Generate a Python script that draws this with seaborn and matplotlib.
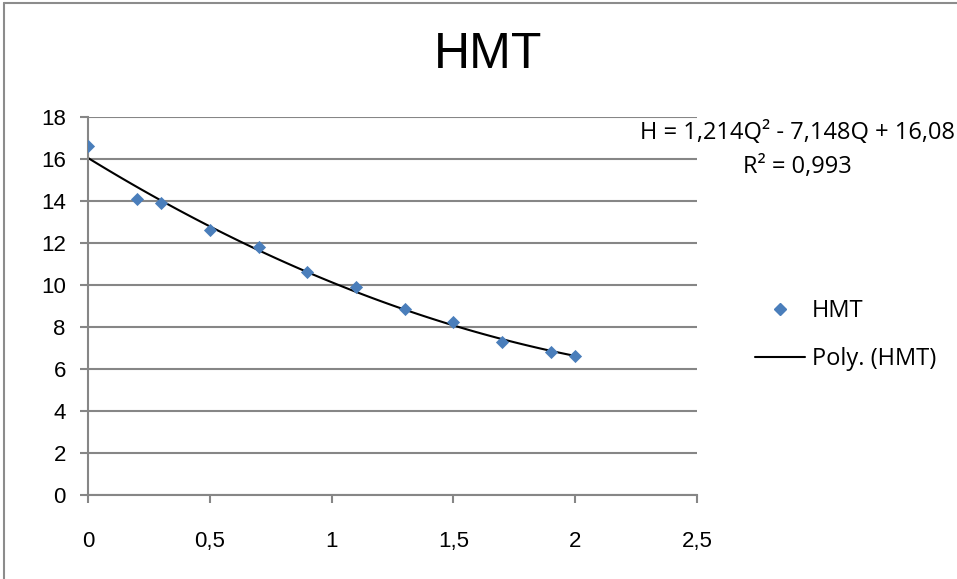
import matplotlib
matplotlib.use("Agg")
import matplotlib.pyplot as plt
import seaborn as sns
import pandas as pd
import numpy as np
from matplotlib import font_manager
from matplotlib.lines import Line2D

# Data
q_values = [0.0, 0.2, 0.3, 0.5, 0.7, 0.9, 1.1, 1.3, 1.5, 1.7, 1.9, 2.0]
hmt_values = [16.6, 14.1, 13.9, 12.6, 11.8, 10.6, 9.9, 8.85, 8.25, 7.3, 6.8, 6.6]
x_ticks = [0, 0.5, 1, 1.5, 2, 2.5]
x_tick_labels = ["0", "0,5", "1", "1,5", "2", "2,5"]
y_ticks = [0, 2, 4, 6, 8, 10, 12, 14, 16, 18]
title = "HMT"
equation = "H = 1,214Q\u00b2 - 7,148Q + 16,08"
r2_text = "R\u00b2 = 0,993"

df = pd.DataFrame({"Q": q_values, "HMT": hmt_values})

sns.set_theme(style="white")
names = {f.name for f in font_manager.fontManager.ttflist}
narrow = "Liberation Sans Narrow" if "Liberation Sans Narrow" in names else "Liberation Sans"
plt.rcParams["font.family"] = [narrow, "DejaVu Sans"]
plt.rcParams["text.color"] = "black"
plt.rcParams["xtick.labelcolor"] = "black"
plt.rcParams["ytick.labelcolor"] = "black"

fig = plt.figure(figsize=(9.57, 5.79), dpi=100)
ax = fig.add_axes([88/957, 1-495/579, (697-88)/957, (495-117)/579])

grid_c = "#868686"
sns.regplot(data=df, x="Q", y="HMT", order=2, ci=None, scatter=False, truncate=True,
            line_kws={"color": "black", "lw": 1.5}, ax=ax)
sns.scatterplot(data=df, x="Q", y="HMT", marker="D", s=45, color="#4a7ebb",
                edgecolor="#4a7ebb", linewidth=0, ax=ax, zorder=5)

ax.set_xlim(0, 2.5)
ax.set_ylim(0, 18)
ax.set_xticks(x_ticks)
ax.set_xticklabels(x_tick_labels)
ax.set_yticks(y_ticks)
ax.set_xlabel("")
ax.set_ylabel("")
ax.yaxis.grid(True, color=grid_c, lw=1.5)
ax.set_axisbelow(True)
for s in ["top", "right"]:
    ax.spines[s].set_visible(False)
for s in ["left", "bottom"]:
    ax.spines[s].set_color(grid_c)
    ax.spines[s].set_linewidth(1.5)
ax.tick_params(axis="x", direction="out", length=6, width=1.5, color=grid_c,
               labelsize=16, pad=20, bottom=True, labelcolor="black")
ax.tick_params(axis="y", direction="out", length=6, width=1.5, color=grid_c,
               labelsize=16, pad=10, left=True, labelcolor="black")

fig.text(488/957, 1-55/579, title, ha="center", va="center", fontsize=36,
         color="black", family=[narrow, "DejaVu Sans"])
fig.text(955/957, 1-133/579, equation, ha="right", va="center", fontsize=17,
         color="black", family=["Open Sans", "DejaVu Sans"])
fig.text(797/957, 1-167/579, r2_text, ha="center", va="center", fontsize=17,
         color="black", family=["Open Sans", "DejaVu Sans"])

handles = [Line2D([], [], marker="D", color="#4a7ebb", ls="none", markersize=6),
           Line2D([], [], color="black", lw=1.5)]
leg = fig.legend(handles, ["HMT", "Poly. (HMT)"], loc="center left",
                 bbox_to_anchor=(755/957, 1-335/579), frameon=False,
                 prop={"family": "Open Sans", "size": 17}, handlelength=2.1,
                 labelspacing=1.0, handletextpad=0.3, borderpad=0, borderaxespad=0)
for t in leg.get_texts():
    t.set_color("black")

fig.add_artist(Line2D([4/957, 4/957], [0, 1-3/579], transform=fig.transFigure,
                      color="#8c8c8c", lw=1.5))
fig.add_artist(Line2D([4/957, 1], [1-3/579, 1-3/579], transform=fig.transFigure,
                      color="#8c8c8c", lw=1.5))

fig.savefig("out.png", dpi=100)
